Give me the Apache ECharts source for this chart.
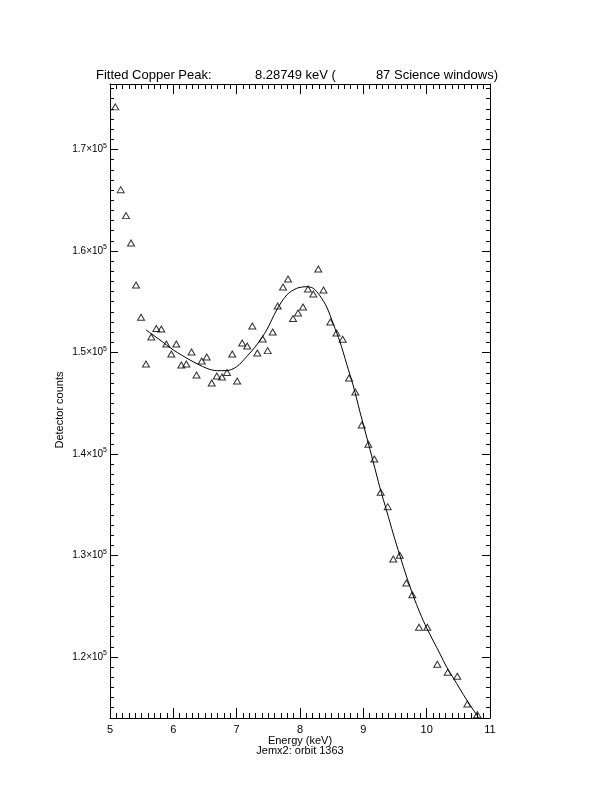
<!DOCTYPE html>
<html>
<head>
<meta charset="utf-8">
<script src="https://cdn.jsdelivr.net/npm/echarts@6/dist/echarts.min.js"></script>
<style>html,body{margin:0;padding:0;background:#fff}#c{width:612px;height:792px}</style>
</head>
<body>
<div id="c"></div>
<script>
// Measured data (energy in keV, detector counts)
const energy = [5.084,5.169,5.253,5.332,5.411,5.490,5.568,5.652,5.731,5.810,5.889,5.968,6.047,6.126,6.205,6.287,6.366,6.448,6.527,6.606,6.686,6.768,6.847,6.930,7.008,7.087,7.166,7.247,7.326,7.411,7.490,7.569,7.648,7.732,7.811,7.890,7.969,8.047,8.126,8.210,8.289,8.371,8.479,8.576,8.674,8.774,8.873,8.974,9.079,9.173,9.274,9.385,9.473,9.574,9.679,9.773,9.879,10.010,10.168,10.332,10.484,10.642,10.800];
const counts = [174200,166040,163480,160790,156650,153470,148870,151530,152360,152310,150840,149850,150840,148770,148870,150050,147780,149160,149560,146990,147680,147590,148030,149850,147190,150940,150640,152610,149950,151330,150180,152020,154580,156450,157240,153350,153890,154480,156260,155760,158230,156160,153000,151920,151300,147490,146110,142860,140960,139510,136230,134810,129660,130020,127290,126140,122930,122930,119280,118490,118100,115370,114320];

// Fitted curve
const fitEnergy = [5.568,5.789,6.0,6.263,6.527,6.685,6.843,7.0,7.158,7.316,7.474,7.632,7.790,7.948,8.106,8.210,8.316,8.422,8.526,8.632,8.737,8.842,8.947,9.053,9.157,9.263,9.369,9.473,9.579,9.685,9.789,9.895,10.0,10.105,10.211,10.316,10.421,10.526,10.632,10.737,10.811];
const fitCounts = [152220,151230,150250,149260,148440,148210,148210,148600,149590,150740,152220,154190,155660,156320,156480,156320,155570,154480,152810,151030,148870,146700,144140,141670,139210,136650,134380,132120,129950,127880,126010,124330,122860,121580,120300,119010,117930,116850,115760,114780,114090];

// Axis ticks and labels
const xMin = 5, xMax = 11;
const yMin = 113990, yMax = 176450;
const yMajorTicks = [120000,130000,140000,150000,160000,170000];
const yMajorLabels = ['1.2','1.3','1.4','1.5','1.6','1.7'];
const yMinorTicks = [];
for (let v = 114000; v <= 176000; v += 1000) yMinorTicks.push(v);

const titleParts = ['Fitted Copper Peak:', '8.28749 keV (', '87 Science windows)'];
const xTitle = 'Energy (keV)';
const subTitle = 'Jemx2: orbit 1363';
const yTitle = 'Detector counts';

const FONT = 'Liberation Sans';
const black = '#000';

const chart = echarts.init(document.getElementById('c'), null, {renderer: 'canvas'});

function yAxisDef(pos, major) {
  return {
    type: 'value', position: pos, min: yMin, max: yMax,
    axisLine: {show: major, lineStyle: {color: black, width: 1}},
    axisTick: {show: true, inside: true, length: major ? 8 : 4,
      customValues: major ? yMajorTicks : yMinorTicks,
      lineStyle: {color: black, width: 1}},
    axisLabel: (major && pos === 'left') ? {
      show: true, margin: 3, customValues: yMajorTicks,
      formatter: function (v) {
        const i = yMajorTicks.indexOf(v);
        return '{b|' + (i >= 0 ? yMajorLabels[i] : '') + '×10}{s|5}';
      },
      rich: {
        b: {fontFamily: FONT, fontSize: 10, color: black},
        s: {fontFamily: FONT, fontSize: 7, color: black, padding: [0, 0, 7, 0]}
      }
    } : {show: false},
    splitLine: {show: false}
  };
}

function xAxisDef(pos) {
  return {
    type: 'value', position: pos, min: xMin, max: xMax, interval: 1,
    axisLine: {show: true, lineStyle: {color: black, width: 1}},
    axisTick: {show: true, inside: true, length: 10, lineStyle: {color: black, width: 1}},
    minorTick: {show: true, splitNumber: 10, length: 5, lineStyle: {color: black, width: 1}},
    axisLabel: pos === 'bottom' ? {show: true, margin: 6, fontFamily: FONT, fontSize: 11, color: black} : {show: false},
    splitLine: {show: false}
  };
}

const option = {
  backgroundColor: '#fff',
  animation: false,
  grid: {left: 110, right: 122, top: 84, bottom: 74, containLabel: false, outerBoundsMode: 'none'},
  xAxis: [xAxisDef('bottom'), xAxisDef('top')],
  yAxis: [yAxisDef('left', true), yAxisDef('left', false), yAxisDef('right', true), yAxisDef('right', false)],
  series: [
    {
      type: 'line', xAxisIndex: 0, yAxisIndex: 0,
      data: fitEnergy.map((e, i) => [e, fitCounts[i]]),
      showSymbol: false, smooth: 0.3,
      lineStyle: {color: black, width: 1},
      z: 2
    },
    {
      type: 'scatter', xAxisIndex: 0, yAxisIndex: 0,
      data: energy.map((e, i) => [e, counts[i]]),
      symbol: 'triangle', symbolSize: [7, 6],
      itemStyle: {color: 'rgba(0,0,0,0)', borderColor: black, borderWidth: 1},
      z: 3
    }
  ],
  graphic: [
    {type: 'text', left: 96, top: 69, style: {text: titleParts[0], font: '13px "' + FONT + '"', fill: black}},
    {type: 'text', left: 255, top: 69, style: {text: titleParts[1], font: '13px "' + FONT + '"', fill: black}},
    {type: 'text', right: 612 - 498, top: 69, style: {text: titleParts[2], font: '13px "' + FONT + '"', fill: black}},
    {type: 'text', x: 300, y: 741, style: {text: xTitle, font: '11px "' + FONT + '"', fill: black, align: 'center', verticalAlign: 'middle'}},
    {type: 'text', x: 300, y: 751, style: {text: subTitle, font: '11px "' + FONT + '"', fill: black, align: 'center', verticalAlign: 'middle'}},
    {type: 'text', x: 60, y: 410, rotation: Math.PI / 2, style: {text: yTitle, font: '11px "' + FONT + '"', fill: black, align: 'center', verticalAlign: 'middle'}}
  ]
};
chart.setOption(option);
</script>
</body>
</html>
